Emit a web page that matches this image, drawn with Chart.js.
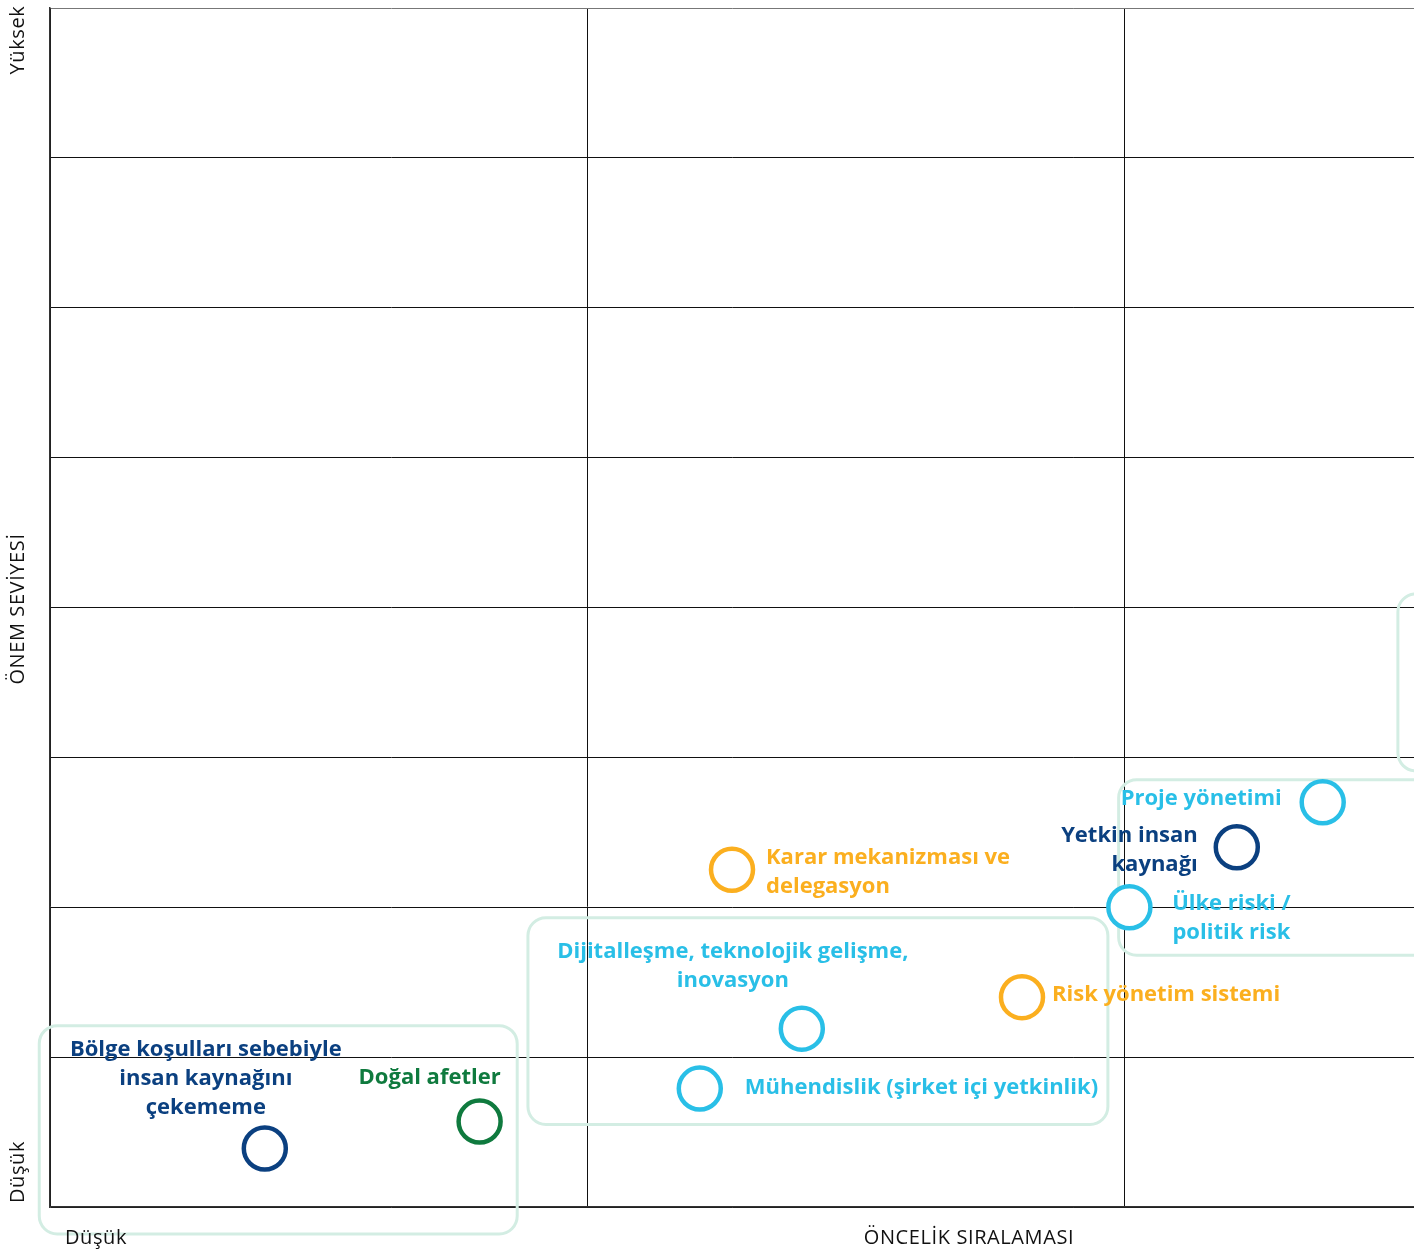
<!DOCTYPE html>
<html lang="tr">
<head>
<meta charset="utf-8">
<title>Önem / Öncelik matrisi</title>
<script src="https://cdn.jsdelivr.net/npm/chart.js@4.4.1/dist/chart.umd.min.js"></script>
<style>
  html, body { margin: 0; padding: 0; background: #fff; }
  #wrap { width: 1414px; height: 1250px; position: relative; }
</style>
</head>
<body>
<div id="wrap"><canvas id="matrix"></canvas></div>
<script>
// --- data ---
const riskNames = [
  ['Bölge koşulları sebebiyle', 'insan kaynağını', 'çekememe'],
  ['Doğal afetler'],
  ['Mühendislik (şirket içi yetkinlik)'],
  ['Dijitalleşme, teknolojik gelişme,', 'inovasyon'],
  ['Karar mekanizması ve', 'delegasyon'],
  ['Risk yönetim sistemi'],
  ['Ülke riski /', 'politik risk'],
  ['Yetkin insan', 'kaynağı'],
  ['Proje yönetimi'],
]
const oncelik = [0.40, 0.80, 1.21, 1.40, 1.27, 1.81, 2.01, 2.21, 2.37]   // x
const onem    = [0.39, 0.57, 0.79, 1.19, 2.25, 1.40, 2.00, 2.40, 2.70]   // y
const riskColor = ['navy', 'green', 'cyan', 'cyan', 'orange', 'orange', 'cyan', 'navy', 'cyan']

const xTicks = [0, 1, 2]
const yTicks = [0, 1, 2, 3, 4, 5, 6, 7, 8]

// groups (rounded frames) in data units: [x0, x1, y0, y1]
const groups = [
  [-0.02, 0.87, -0.18, 1.21],
  [0.89, 1.97, 0.55, 1.93],
  [1.99, 2.70, 1.68, 2.85],
  [2.51, 2.95, 2.91, 4.09],
]

// label placement relative to the circle (px): dx, dy of first line, align
const labelLayout = [
  [-59, -99, 'center'],
  [-50, -44, 'center'],
  [45, -1, 'left'],
  [-69, -77, 'center'],
  [34, -12, 'left'],
  [30, -2, 'left'],
  [102, -4, 'center'],
  [-39, -12, 'right'],
  [-41, -4, 'right'],
]

const COLORS = { navy: '#0b4080', green: '#0f7a3e', cyan: '#29bfe7', orange: '#fbaf1f' }
const FRAME = '#d3ede3'
const LABEL_FONT = '700 22px "Open Sans"'
const AXIS_FONT = '500 20px "Open Sans"'

const groupFrames = {
  id: 'groupFrames',
  beforeDatasetsDraw(chart) {
    const { ctx, scales: { x, y } } = chart
    ctx.save()
    ctx.strokeStyle = FRAME
    ctx.lineWidth = 3
    groups.forEach(([x0, x1, y0, y1]) => {
      const l = x.getPixelForValue(x0), r = x.getPixelForValue(x1)
      const t = y.getPixelForValue(y1), b = y.getPixelForValue(y0)
      ctx.beginPath()
      ctx.roundRect(l, t, r - l, b - t, 18)
      ctx.stroke()
    })
    ctx.restore()
  },
}

const pointLabels = {
  id: 'pointLabels',
  afterDatasetsDraw(chart) {
    const { ctx } = chart
    const meta = chart.getDatasetMeta(0)
    ctx.save()
    ctx.font = LABEL_FONT
    ctx.textBaseline = 'middle'
    meta.data.forEach((pt, i) => {
      const [dx, dy, align] = labelLayout[i]
      ctx.fillStyle = COLORS[riskColor[i]]
      ctx.textAlign = align
      riskNames[i].forEach((line, j) => ctx.fillText(line, pt.x + dx, pt.y + dy + j * 29))
    })

    // axis captions
    ctx.fillStyle = '#111'
    ctx.font = AXIS_FONT
    ctx.letterSpacing = '0.6px'
    ctx.textAlign = 'left'
    ctx.fillText('Düşük', 65, 1238)
    ctx.textAlign = 'center'
    ctx.fillText('ÖNCELİK SIRALAMASI', 969, 1238)
    const vert = [['Yüksek', 40], ['ÖNEM SEVİYESİ', 609], ['Düşük', 1172]]
    vert.forEach(([t, cy]) => {
      ctx.save()
      ctx.translate(18, cy)
      ctx.rotate(-Math.PI / 2)
      ctx.fillText(t, 0, 0)
      ctx.restore()
    })
    ctx.restore()
  },
}

new Chart(document.getElementById('matrix'), {
  type: 'scatter',
  data: {
    datasets: [{
      data: oncelik.map((v, i) => ({ x: v, y: onem[i] })),
      pointRadius: 21,
      pointHoverRadius: 21,
      pointBorderWidth: 4.5,
      pointBackgroundColor: '#fff',
      pointBorderColor: riskColor.map(c => COLORS[c]),
      clip: false,
    }],
  },
  options: {
    responsive: true,
    maintainAspectRatio: false,
    animation: false,
    events: [],
    layout: { autoPadding: false, padding: { left: 50, top: 8, right: 0, bottom: 43 } },
    plugins: { legend: { display: false }, tooltip: { enabled: false } },
    scales: {
      x: {
        type: 'linear', min: 0, max: 2.54,
        afterBuildTicks: s => { s.ticks = xTicks.map(v => ({ value: v })) },
        ticks: { display: false },
        grid: { color: '#111', lineWidth: 1, drawTicks: false },
        border: { color: '#333', width: 1.5 },
      },
      y: {
        type: 'linear', min: 0, max: 8,
        afterBuildTicks: s => { s.ticks = yTicks.map(v => ({ value: v })) },
        ticks: { display: false },
        grid: { color: ctx => ctx.tick.value === 8 ? '#777' : '#111', lineWidth: 1, drawTicks: false },
        border: { color: '#333', width: 1.5 },
      },
    },
  },
  plugins: [groupFrames, pointLabels],
})
</script>
</body>
</html>
